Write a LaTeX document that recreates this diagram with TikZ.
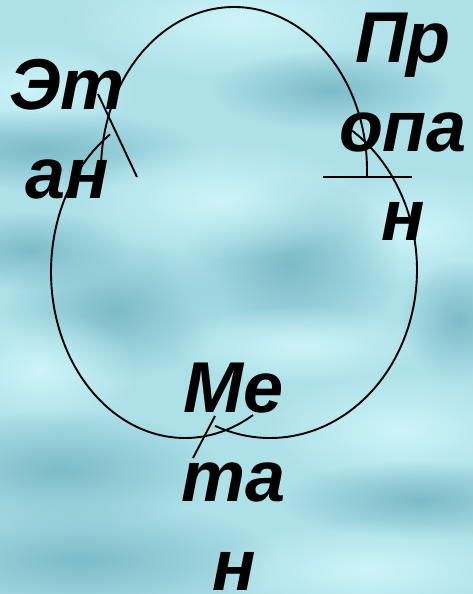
\documentclass[tikz,border=0pt]{standalone}
\usepackage{fontspec}
\setmainfont{Liberation Sans}
\usetikzlibrary{fadings}
\tikzfading[name=softblob, inner color=transparent!0, outer color=transparent!100]
\definecolor{seabase}{RGB}{174,224,232}
\definecolor{seadark}{RGB}{124,188,200}
\definecolor{sealight}{RGB}{204,244,250}
\begin{document}
\begin{tikzpicture}[x=1pt,y=-1pt,
  word/.style={font=\fontsize{72}{89}\selectfont\bfseries\itshape, align=center, inner sep=0pt, text=black},
  curve/.style={line width=1.9pt, draw=black},
  blobd/.style={fill=seadark, path fading=softblob},
  blobl/.style={fill=sealight, path fading=softblob}]
\useasboundingbox (0,0) rectangle (473,594);
\fill[seabase] (0,0) rectangle (473,594);
% water texture
\fill[blobl] (240,20) ellipse (180 and 60);
\fill[blobl] (30,90) ellipse (110 and 50);
\fill[blobd] (40,150) ellipse (160 and 40);
\fill[blobd] (330,90) ellipse (120 and 40);
\fill[blobl] (420,230) ellipse (110 and 60);
\fill[blobd] (30,250) ellipse (100 and 40);
\fill[blobd] (290,265) ellipse (110 and 90);
\fill[blobd] (115,310) ellipse (110 and 70);
\fill[blobl] (220,200) ellipse (150 and 60);
\fill[blobl] (300,345) ellipse (130 and 40);
\fill[blobl] (40,370) ellipse (100 and 60);
\fill[blobd] (60,470) ellipse (160 and 60);
\fill[blobd] (80,560) ellipse (200 and 60);
\fill[blobl] (400,430) ellipse (140 and 60);
\fill[blobd] (420,500) ellipse (140 and 40);
\fill[blobl] (370,570) ellipse (160 and 50);
\fill[blobd] (460,320) ellipse (60 and 60);
% cycle arcs
\draw[curve] plot[domain=180:360, samples=90, smooth] ({234+133*cos(\x)},{170+163*sin(\x)}) -- (367,177);
\draw[curve] plot[domain=59.5:236, samples=90, smooth] ({185+134*cos(\x)},{272+166*sin(\x)});
\draw[curve] plot[domain=-56:112, samples=90, smooth] ({270+147*cos(\x)},{270+168*sin(\x)});
% labels (base anchor = baseline of the last line)
\node[word, anchor=base] (etan) at (67,198) {Эт\\ан};
\node[word, anchor=base] (propan) at (403,240) {Пр\\опа\\н};
\node[word, anchor=base] (metan) at (234,590) {Ме\\та\\н};
% pointer lines
\coordinate (e1) at (98,94);
\coordinate (e2) at (137,177);
\coordinate (p1) at (323,177);
\coordinate (p2) at (412,177);
\coordinate (m1) at (193,458);
\coordinate (m2) at (215,416);
\draw[curve] (e1) -- (e2);
\draw[curve] (p1) -- (p2);
\draw[curve] (m1) -- (m2);
\end{tikzpicture}
\end{document}
